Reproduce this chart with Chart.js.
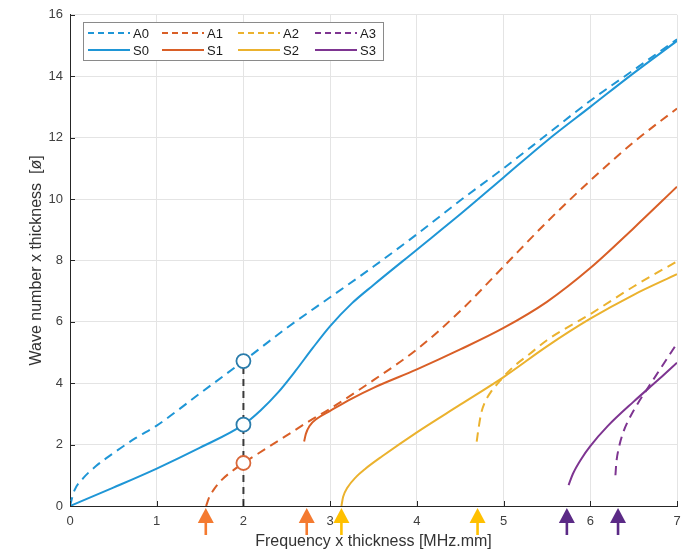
<!DOCTYPE html>
<html>
<head>
<meta charset="utf-8">
<script src="https://cdn.jsdelivr.net/npm/chart.js@4/dist/chart.umd.min.js"></script>
<style>
  html, body { margin: 0; padding: 0; background: #fff; }
  #wrap { width: 693px; height: 551px; }
</style>
</head>
<body>
<div id="wrap"><canvas id="dispersionChart"></canvas></div>
<script>
// Dispersion curves: frequency x thickness vs wave number x thickness
const a0X = [0, 0.05, 0.15, 0.3, 0.5, 0.75, 1, 1.5, 2, 2.5, 3, 3.5, 4, 4.5, 5, 5.5, 6, 6.5, 7];
const a0Y = [0, 0.5, 0.9, 1.3, 1.72, 2.2, 2.62, 3.67, 4.72, 5.8, 6.8, 7.8, 8.85, 9.95, 11.0, 12.1, 13.2, 14.2, 15.2];

const s0X = [0, 0.5, 1, 1.5, 2, 2.2, 2.4, 2.6, 2.8, 3, 3.25, 3.5, 4, 4.5, 5, 5.5, 6, 6.5, 7];
const s0Y = [0, 0.6, 1.22, 1.9, 2.65, 3.12, 3.7, 4.4, 5.15, 5.86, 6.6, 7.2, 8.35, 9.5, 10.7, 11.9, 13.0, 14.1, 15.15];

const a1X = [1.57, 1.6, 1.65, 1.75, 1.9, 2, 2.25, 2.5, 2.75, 3, 3.5, 4, 4.5, 5, 5.5, 6, 6.5, 7];
const a1Y = [0, 0.25, 0.5, 0.85, 1.2, 1.4, 1.85, 2.3, 2.75, 3.17, 4.1, 5.1, 6.35, 7.8, 9.25, 10.6, 11.85, 12.95];

const s1X = [2.7, 2.72, 2.76, 2.85, 3, 3.25, 3.5, 4, 4.5, 5, 5.5, 6, 6.5, 7];
const s1Y = [2.1, 2.35, 2.6, 2.85, 3.1, 3.5, 3.85, 4.45, 5.1, 5.8, 6.65, 7.75, 9.05, 10.4];

const a2X = [4.69, 4.71, 4.74, 4.78, 4.85, 4.95, 5.1, 5.3, 5.5, 6, 6.5, 7];
const a2Y = [2.1, 2.5, 3.0, 3.35, 3.7, 4.05, 4.5, 4.95, 5.4, 6.25, 7.15, 7.97];

const s2X = [3.13, 3.15, 3.2, 3.3, 3.4, 3.6, 4, 4.5, 5, 5.5, 6, 6.5, 7];
const s2Y = [0, 0.3, 0.6, 0.95, 1.2, 1.62, 2.4, 3.3, 4.2, 5.2, 6.1, 6.88, 7.55];

const a3X = [6.29, 6.3, 6.33, 6.38, 6.45, 6.55, 6.7, 6.85, 7];
const a3Y = [1.0, 1.4, 1.9, 2.4, 2.85, 3.35, 4.0, 4.65, 5.3];

const s3X = [5.75, 5.8, 5.9, 6, 6.2, 6.5, 6.8, 7];
const s3Y = [0.68, 1.05, 1.55, 1.95, 2.6, 3.4, 4.15, 4.67];

// marked points at f.d = 2
const markX = [2, 2, 2];
const markY = [4.72, 2.65, 1.4];

// cutoff arrows under the x axis
const arrowX = [1.566, 2.73, 3.13, 4.70, 5.73, 6.32];
const arrowColors = ['#f47a30', '#f47a30', '#ffc000', '#ffc000', '#5b2a86', '#5b2a86'];

const xTicks = [0, 1, 2, 3, 4, 5, 6, 7];
const yTicks = [0, 2, 4, 6, 8, 10, 12, 14, 16];

const colors = {
  blue: '#1f96d6',
  orange: '#d95f27',
  yellow: '#ebb22e',
  purple: '#7e3591',
  axis: '#262626',
  grid: '#e4e4e4',
  text: '#404040'
};

function pts(xs, ys) {
  return xs.map(function(x, i) { return { x: x, y: ys[i] }; });
}

function curve(label, xs, ys, color, dashed) {
  return {
    label: label,
    data: pts(xs, ys),
    borderColor: color,
    backgroundColor: color,
    borderWidth: 2,
    borderDash: dashed ? [9, 6] : [],
    pointRadius: 0,
    cubicInterpolationMode: 'monotone',
    fill: false,
    order: 5
  };
}

// legend entries, drawn inside the plot area
const legendItems = [
  { label: 'A0', color: colors.blue, dashed: true },
  { label: 'A1', color: colors.orange, dashed: true },
  { label: 'A2', color: colors.yellow, dashed: true },
  { label: 'A3', color: colors.purple, dashed: true },
  { label: 'S0', color: colors.blue, dashed: false },
  { label: 'S1', color: colors.orange, dashed: false },
  { label: 'S2', color: colors.yellow, dashed: false },
  { label: 'S3', color: colors.purple, dashed: false }
];

const extrasPlugin = {
  id: 'extras',
  afterDraw: function(chart) {
    const ctx = chart.ctx;
    const area = chart.chartArea;
    const xs = chart.scales.x;
    const ys = chart.scales.y;
    ctx.save();

    // inward tick marks
    ctx.strokeStyle = colors.axis;
    ctx.lineWidth = 1;
    xTicks.forEach(function(t) {
      const px = Math.round(xs.getPixelForValue(t)) + 0.5;
      ctx.beginPath();
      ctx.moveTo(px, area.bottom);
      ctx.lineTo(px, area.bottom - 5);
      ctx.stroke();
    });
    yTicks.forEach(function(t) {
      const py = Math.round(ys.getPixelForValue(t)) + 0.5;
      ctx.beginPath();
      ctx.moveTo(area.left, py);
      ctx.lineTo(area.left + 5, py);
      ctx.stroke();
    });

    // arrows
    arrowX.forEach(function(v, i) {
      const px = xs.getPixelForValue(v);
      const tip = area.bottom + 2;
      ctx.fillStyle = arrowColors[i];
      ctx.beginPath();
      ctx.moveTo(px, tip);
      ctx.lineTo(px + 8, tip + 15);
      ctx.lineTo(px - 8, tip + 15);
      ctx.closePath();
      ctx.fill();
      ctx.fillRect(px - 1.3, tip + 14, 2.6, 13);
    });

    // legend box
    const bx = 83, by = 22, bw = 300, bh = 38;
    ctx.fillStyle = '#ffffff';
    ctx.fillRect(bx, by, bw, bh);
    ctx.strokeStyle = '#8a8a8a';
    ctx.lineWidth = 1;
    ctx.strokeRect(bx + 0.5, by + 0.5, bw, bh);
    const colX = [88, 162, 238, 315];
    const rowY = [33, 50];
    ctx.font = '13px "Liberation Sans", Arial, sans-serif';
    ctx.textBaseline = 'middle';
    ctx.textAlign = 'left';
    legendItems.forEach(function(item, i) {
      const cx = colX[i % 4];
      const cy = rowY[Math.floor(i / 4)];
      ctx.strokeStyle = item.color;
      ctx.lineWidth = 2;
      ctx.setLineDash(item.dashed ? [6, 4] : []);
      ctx.beginPath();
      ctx.moveTo(cx, cy);
      ctx.lineTo(cx + 42, cy);
      ctx.stroke();
      ctx.setLineDash([]);
      ctx.fillStyle = '#1a1a1a';
      ctx.fillText(item.label, cx + 45, cy + 1);
    });

    ctx.restore();
  }
};

const datasets = [
  {
    label: 'marks',
    data: pts(markX, markY),
    showLine: false,
    pointRadius: 7,
    pointHoverRadius: 7,
    pointBorderWidth: 1.8,
    pointBackgroundColor: '#ffffff',
    pointBorderColor: ['#2a7cab', '#2a7cab', '#d9683a'],
    order: 0
  },
  {
    label: 'guide',
    data: pts([2, 2], [0, markY[0]]),
    borderColor: '#3a3a3a',
    borderWidth: 2,
    borderDash: [7, 5],
    pointRadius: 0,
    order: 1
  },
  curve('A0', a0X, a0Y, colors.blue, true),
  curve('S0', s0X, s0Y, colors.blue, false),
  curve('A1', a1X, a1Y, colors.orange, true),
  curve('S1', s1X, s1Y, colors.orange, false),
  curve('A2', a2X, a2Y, colors.yellow, true),
  curve('S2', s2X, s2Y, colors.yellow, false),
  curve('A3', a3X, a3Y, colors.purple, true),
  curve('S3', s3X, s3Y, colors.purple, false)
];

const tickFont = { family: '"Liberation Sans", Arial, sans-serif', size: 13 };
const titleFont = { family: '"Liberation Sans", Arial, sans-serif', size: 16 };

new Chart(document.getElementById('dispersionChart'), {
  type: 'line',
  data: { datasets: datasets },
  options: {
    responsive: true,
    maintainAspectRatio: false,
    animation: false,
    events: [],
    layout: { padding: { top: 12, right: 16, left: 0, bottom: 0 } },
    plugins: {
      legend: { display: false },
      tooltip: { enabled: false }
    },
    scales: {
      x: {
        type: 'linear',
        min: 0,
        max: 7,
        afterBuildTicks: function(scale) {
          scale.ticks = xTicks.map(function(v) { return { value: v }; });
        },
        afterFit: function(scale) { scale.height = 45; },
        grid: { color: colors.grid, drawTicks: false },
        border: { color: colors.axis, width: 1 },
        ticks: { color: colors.text, font: tickFont, padding: 8, maxRotation: 0 },
        title: {
          display: true,
          text: 'Frequency x thickness [MHz.mm]',
          color: '#333333',
          font: titleFont,
          padding: { top: 0, bottom: 0 }
        }
      },
      y: {
        min: 0,
        max: 16,
        afterBuildTicks: function(scale) {
          scale.ticks = yTicks.map(function(v) { return { value: v }; });
        },
        afterFit: function(scale) { scale.width = 70; },
        grid: { color: colors.grid, drawTicks: false },
        border: { color: colors.axis, width: 1 },
        ticks: { color: colors.text, font: tickFont, padding: 7 },
        title: {
          display: true,
          text: 'Wave number x thickness  [ø]',
          color: '#333333',
          font: titleFont,
          padding: { top: 27, bottom: 0 }
        }
      }
    }
  },
  plugins: [extrasPlugin]
});
</script>
</body>
</html>
